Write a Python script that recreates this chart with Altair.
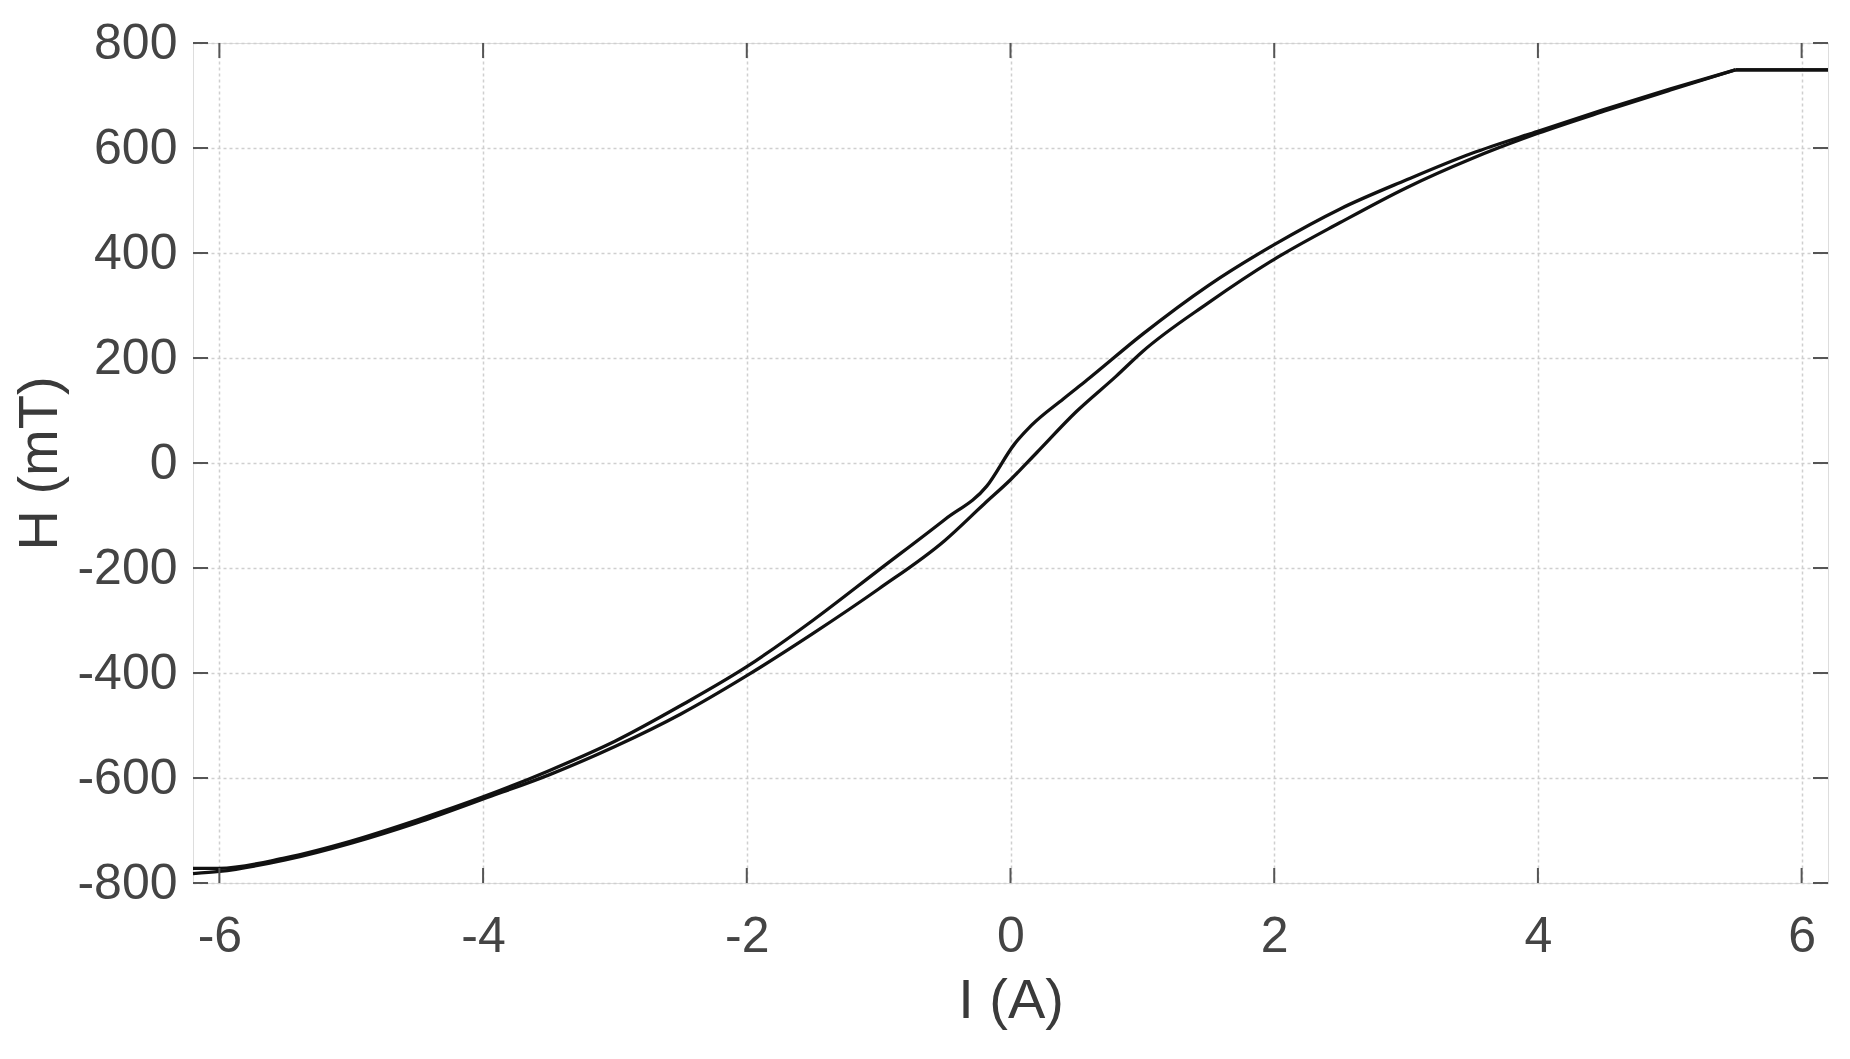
import altair as alt
import pandas as pd

# Upper (descending) branch
upper_I = [-6.2, -6.0, -5.5, -5.0, -4.5, -4.0, -3.5, -3.0, -2.5, -2.0, -1.5, -1.0, -0.5, -0.18,
           0.03, 0.16, 0.4, 0.58, 1.0, 1.5, 2.0, 2.5, 3.0, 3.5, 4.0, 4.5, 5.0, 5.5, 6.2]
upper_H = [-772, -772, -752, -720, -680, -636, -586, -530, -462, -388, -300, -204, -108, -44,
           36, 72, 122, 158, 245, 338, 416, 484, 539, 590, 632, 673, 712, 749, 749]

# Lower (ascending) branch
lower_I = [-6.2, -6.0, -5.5, -5.0, -4.5, -4.0, -3.5, -3.0, -2.5, -2.0, -1.5, -1.0, -0.5, -0.2,
           0.0, 0.2, 0.5, 0.8, 1.0, 1.5, 2.0, 2.5, 3.0, 3.5, 4.0, 4.5, 5.0, 5.5, 6.2]
lower_H = [-782, -778, -756, -724, -685, -640, -594, -540, -478, -405, -325, -240, -148, -78,
           -32, 20, 98, 165, 212, 305, 388, 458, 524, 580, 628, 670, 710, 749, 749]

SAT_I = 5.5  # saturation point where the curve becomes flat

x_ticks = [-6, -4, -2, 0, 2, 4, 6]
y_ticks = [-800, -600, -400, -200, 0, 200, 400, 600, 800]

rows = []
for i, (a, b) in enumerate(zip(upper_I, upper_H)):
    rows.append({"I": a, "H": b, "branch": "upper", "order": i})
for i, (a, b) in enumerate(zip(lower_I, lower_H)):
    rows.append({"I": a, "H": b, "branch": "lower", "order": i})
df = pd.DataFrame(rows)

W, Hh = 1635, 840
FONT = "Liberation Sans"

xscale = alt.Scale(domain=[-6.2, 6.2], nice=False, zero=False)
yscale = alt.Scale(domain=[-800, 800], nice=False, zero=False)

xaxis = alt.Axis(values=x_ticks, title="I (A)", grid=True, gridColor="#cfcfcf",
                 gridDash=[3, 3], gridWidth=1.5, ticks=False, domain=False,
                 labelExpr="'' + datum.value",
                 labelFont=FONT, labelFontSize=50, labelColor="#444444", labelPadding=28,
                 titleFont=FONT, titleFontSize=56, titleFontWeight="normal",
                 titleColor="#3a3a3a", titlePadding=12, labelFlush=False)
yaxis = alt.Axis(values=y_ticks, title="H (mT)", grid=True, gridColor="#cfcfcf",
                 gridDash=[3, 3], gridWidth=1.5, ticks=False, domain=False,
                 labelExpr="'' + datum.value",
                 labelFont=FONT, labelFontSize=50, labelColor="#444444", labelPadding=16,
                 titleFont=FONT, titleFontSize=56, titleFontWeight="normal",
                 titleColor="#3a3a3a", titlePadding=8, labelFlush=False)

base = alt.Chart(df)
curve = base.transform_filter(alt.datum.I <= SAT_I).mark_line(
    color="#111111", strokeWidth=3.3, interpolate="monotone").encode(
    x=alt.X("I:Q", scale=xscale, axis=xaxis),
    y=alt.Y("H:Q", scale=yscale, axis=yaxis),
    detail="branch:N",
    order="order:Q",
)
flat = base.transform_filter(alt.datum.I >= SAT_I).mark_line(
    color="#111111", strokeWidth=3.3).encode(
    x=alt.X("I:Q", scale=xscale),
    y=alt.Y("H:Q", scale=yscale),
    detail="branch:N",
    order="order:Q",
)

xt = pd.DataFrame({"t": x_ticks})
yt = pd.DataFrame({"t": y_ticks})
tick_color = "#555555"
TL = 15

top_ticks = alt.Chart(xt).mark_rule(color=tick_color, strokeWidth=2).encode(
    x=alt.X("t:Q", scale=xscale), y=alt.value(0), y2=alt.value(TL))
bot_ticks = alt.Chart(xt).mark_rule(color=tick_color, strokeWidth=2).encode(
    x=alt.X("t:Q", scale=xscale), y=alt.value(Hh), y2=alt.value(Hh - TL))
left_ticks = alt.Chart(yt).mark_rule(color=tick_color, strokeWidth=2).encode(
    y=alt.Y("t:Q", scale=yscale), x=alt.value(0), x2=alt.value(TL))
right_ticks = alt.Chart(yt).mark_rule(color=tick_color, strokeWidth=2).encode(
    y=alt.Y("t:Q", scale=yscale), x=alt.value(W), x2=alt.value(W - TL))

chart = alt.layer(curve, flat, top_ticks, bot_ticks, left_ticks, right_ticks).properties(
    width=W, height=Hh,
    autosize=alt.AutoSizeParams(type="none"),
    padding={"left": 185, "top": 35, "right": 14, "bottom": 160},
).configure_view(stroke="#666666", strokeWidth=2.5).configure(background="white")

chart.save("out.html", embed_options={"renderer": "svg", "actions": False})
